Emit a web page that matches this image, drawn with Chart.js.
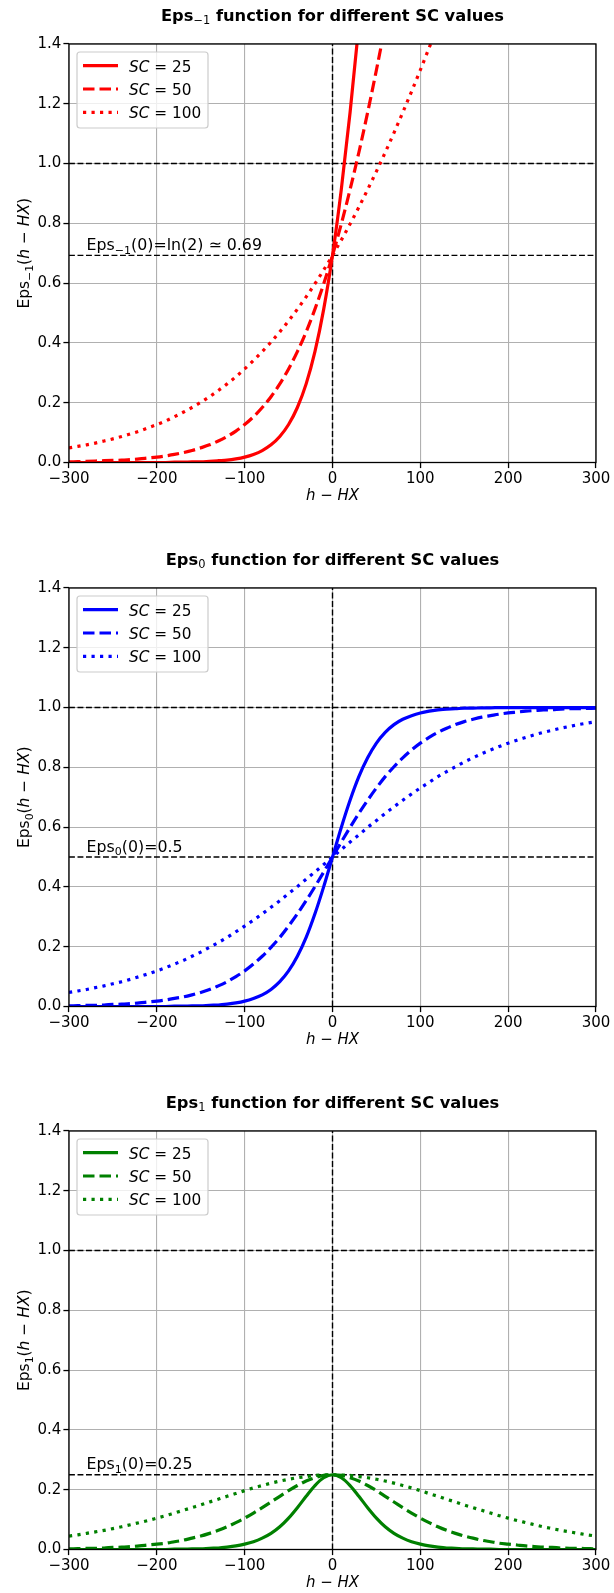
<!DOCTYPE html>
<html>
<head>
<meta charset="utf-8">
<script src="https://cdn.jsdelivr.net/npm/chart.js@4.4.1/dist/chart.umd.min.js"></script>
<style>
html, body { margin: 0; padding: 0; background: #fff; }
#wrap { position: relative; width: 614px; height: 1593px; }
canvas { position: absolute; left: 0; }
</style>
</head>
<body>
<div id="wrap">
<canvas id="c1" width="614" height="506" style="top:0px"></canvas>
<canvas id="c2" width="614" height="506" style="top:544px"></canvas>
<canvas id="c3" width="614" height="506" style="top:1087px"></canvas>
</div>
<script>
// h - HX sample points, every 10
const hx = [-300,-290,-280,-270,-260,-250,-240,-230,-220,-210,-200,-190,-180,-170,-160,-150,-140,-130,-120,-110,
            -100,-90,-80,-70,-60,-50,-40,-30,-20,-10,0,10,20,30,40,50,60,70,80,90,100,110,120,130,140,150,
            160,170,180,190,200,210,220,230,240,250,260,270,280,290,300];

// Eps_-1 values
const epsM1_sc25 = [0.000,0.000,0.000,0.000,0.000,0.000,0.000,0.000,0.000,0.000,0.000,0.000,0.001,0.001,0.002,0.002,
                    0.004,0.006,0.008,0.012,0.018,0.027,0.040,0.059,0.087,0.127,0.184,0.263,0.371,0.513,0.693,
                    0.913,1.171,1.463,1.784,2.127,2.487,2.859,3.240,3.627,4.018,4.412,4.808,5.206,5.604,6.002,
                    6.402,6.801,7.201,7.600,8.000,8.400,8.800,9.200,9.600,10.000,10.400,10.800,11.200,11.600,12.000];
const epsM1_sc50 = [0.002,0.003,0.004,0.005,0.006,0.007,0.008,0.010,0.012,0.015,0.018,0.022,0.027,0.033,0.040,0.049,
                    0.059,0.072,0.087,0.105,0.127,0.153,0.184,0.220,0.263,0.313,0.371,0.437,0.513,0.598,0.693,
                    0.798,0.913,1.037,1.171,1.313,1.463,1.620,1.784,1.953,2.127,2.305,2.487,2.672,2.859,3.049,
                    3.240,3.433,3.627,3.822,4.018,4.215,4.412,4.610,4.808,5.007,5.206,5.405,5.604,5.803,6.002];
const epsM1_sc100 = [0.049,0.054,0.059,0.065,0.072,0.079,0.087,0.096,0.105,0.116,0.127,0.139,0.153,0.168,0.184,0.201,
                     0.220,0.241,0.263,0.287,0.313,0.341,0.371,0.403,0.437,0.474,0.513,0.554,0.598,0.644,0.693,
                     0.744,0.798,0.854,0.913,0.974,1.037,1.103,1.171,1.241,1.313,1.387,1.463,1.541,1.620,1.701,
                     1.784,1.868,1.953,2.039,2.127,2.216,2.305,2.396,2.487,2.579,2.672,2.765,2.859,2.954,3.049];

// Eps_0 values (middle panel)
const eps0_sc25 = [0.000,0.000,0.000,0.000,0.000,0.000,0.000,0.000,0.000,0.000,0.000,0.000,0.001,0.001,0.002,0.002,
                   0.004,0.005,0.008,0.012,0.018,0.027,0.039,0.057,0.083,0.119,0.168,0.231,0.310,0.401,0.500,
                   0.599,0.690,0.769,0.832,0.881,0.917,0.943,0.961,0.973,0.982,0.988,0.992,0.995,0.996,0.998,
                   0.998,0.999,0.999,1.000,1.000,1.000,1.000,1.000,1.000,1.000,1.000,1.000,1.000,1.000,1.000];
const eps0_sc50 = [0.002,0.003,0.004,0.004,0.005,0.007,0.008,0.010,0.012,0.015,0.018,0.022,0.027,0.032,0.039,0.047,
                   0.057,0.069,0.083,0.100,0.119,0.142,0.168,0.198,0.231,0.269,0.310,0.354,0.401,0.450,0.500,
                   0.550,0.599,0.646,0.690,0.731,0.769,0.802,0.832,0.858,0.881,0.900,0.917,0.931,0.943,0.953,
                   0.961,0.968,0.973,0.978,0.982,0.985,0.988,0.990,0.992,0.993,0.995,0.996,0.996,0.997,0.998];
const eps0_sc100 = [0.047,0.052,0.057,0.063,0.069,0.076,0.083,0.091,0.100,0.109,0.119,0.130,0.142,0.154,0.168,0.182,
                    0.198,0.214,0.231,0.250,0.269,0.289,0.310,0.332,0.354,0.378,0.401,0.426,0.450,0.475,0.500,
                    0.525,0.550,0.574,0.599,0.622,0.646,0.668,0.690,0.711,0.731,0.750,0.769,0.786,0.802,0.818,
                    0.832,0.846,0.858,0.870,0.881,0.891,0.900,0.909,0.917,0.924,0.931,0.937,0.943,0.948,0.953];

// Eps_1 values (bottom panel)
const eps1_sc25 = [0.000,0.000,0.000,0.000,0.000,0.000,0.000,0.000,0.000,0.000,0.000,0.000,0.001,0.001,0.002,0.002,
                   0.004,0.005,0.008,0.012,0.018,0.026,0.038,0.054,0.076,0.105,0.140,0.178,0.214,0.240,0.250,
                   0.240,0.214,0.178,0.140,0.105,0.076,0.054,0.038,0.026,0.018,0.012,0.008,0.005,0.004,0.002,
                   0.002,0.001,0.001,0.000,0.000,0.000,0.000,0.000,0.000,0.000,0.000,0.000,0.000,0.000,0.000];
const eps1_sc50 = [0.002,0.003,0.004,0.004,0.005,0.007,0.008,0.010,0.012,0.015,0.018,0.021,0.026,0.031,0.038,0.045,
                   0.054,0.064,0.076,0.090,0.105,0.122,0.140,0.159,0.178,0.197,0.214,0.229,0.240,0.248,0.250,
                   0.248,0.240,0.229,0.214,0.197,0.178,0.159,0.140,0.122,0.105,0.090,0.076,0.064,0.054,0.045,
                   0.038,0.031,0.026,0.021,0.018,0.015,0.012,0.010,0.008,0.007,0.005,0.004,0.004,0.003,0.002];
const eps1_sc100 = [0.045,0.049,0.054,0.059,0.064,0.070,0.076,0.083,0.090,0.097,0.105,0.113,0.122,0.131,0.140,0.149,
                    0.159,0.168,0.178,0.187,0.197,0.206,0.214,0.222,0.229,0.235,0.240,0.244,0.248,0.249,0.250,
                    0.249,0.248,0.244,0.240,0.235,0.229,0.222,0.214,0.206,0.197,0.187,0.178,0.168,0.159,0.149,
                    0.140,0.131,0.122,0.113,0.105,0.097,0.090,0.083,0.076,0.070,0.064,0.059,0.054,0.049,0.045];

const scValues = [25, 50, 100];
const refLevels = [0.693, 0.5, 0.25];   // Eps(0) for each panel
const unityLevel = 1.0;
const xTicks = [-300, -200, -100, 0, 100, 200, 300];
const yTicks = [0.0, 0.2, 0.4, 0.6, 0.8, 1.0, 1.2, 1.4];

const FONT = '"DejaVu Sans", sans-serif';
const DASH = [11.5, 5];
const DOT = [3.2, 5.3];
const STYLES = [[], DASH, DOT];

const pts = ys => hx.map((x, i) => ({ x: x, y: ys[i] }));

function setFont(ctx, st, size) {
  const sub = st.includes('s');
  const sz = sub ? size * 0.7 : size;
  ctx.font = (st.includes('i') ? 'italic ' : '') + (st.includes('b') ? 'bold ' : '') + sz + 'px ' + FONT;
  return sub ? size * 0.24 : 0;
}
function richWidth(ctx, parts, size) {
  let w = 0;
  parts.forEach(p => { setFont(ctx, p[1], size); w += ctx.measureText(p[0]).width; });
  return w;
}
function drawRich(ctx, parts, size, x, y, align) {
  const w = richWidth(ctx, parts, size);
  let cx = align === 'center' ? x - w / 2 : (align === 'right' ? x - w : x);
  ctx.textAlign = 'left';
  ctx.textBaseline = 'alphabetic';
  ctx.fillStyle = '#000';
  parts.forEach(p => {
    const dy = setFont(ctx, p[1], size);
    ctx.fillText(p[0], cx, y + dy);
    cx += ctx.measureText(p[0]).width;
  });
}

function decor(cfg) {
  return {
    id: 'decor',
    afterDraw(chart) {
      const ctx = chart.ctx, a = chart.chartArea;
      const xs = chart.scales.x, ys = chart.scales.y;
      ctx.save();
      // frame
      ctx.setLineDash([]);
      ctx.strokeStyle = '#000';
      ctx.lineWidth = 1.3;
      ctx.strokeRect(a.left, a.top, a.right - a.left, a.bottom - a.top);

      // title
      drawRich(ctx, cfg.title, 16.3, (a.left + a.right) / 2, 20.5, 'center');
      // x label
      drawRich(ctx, [['h', 'i'], [' \u2212 ', ''], ['HX', 'i']], 15, (a.left + a.right) / 2, a.bottom + 37, 'center');
      // y label
      ctx.save();
      ctx.translate(29, (a.top + a.bottom) / 2);
      ctx.rotate(-Math.PI / 2);
      drawRich(ctx, cfg.ylabel, 15.5, 0, 0, 'center');
      ctx.restore();

      // annotation
      drawRich(ctx, cfg.note, 15.8, xs.getPixelForValue(-280), ys.getPixelForValue(cfg.ref) - 5.5, 'left');

      // legend
      const L = a.left + 8, T = a.top + 8;
      ctx.beginPath();
      ctx.roundRect(L, T, 131, 76, 3);
      ctx.fillStyle = 'rgba(255,255,255,0.8)';
      ctx.fill();
      ctx.strokeStyle = '#cccccc';
      ctx.lineWidth = 1.2;
      ctx.stroke();
      scValues.forEach((sc, i) => {
        const y = a.top + 21.7 + 23.3 * i;
        ctx.beginPath();
        ctx.setLineDash(STYLES[i]);
        ctx.lineCap = 'butt';
        ctx.strokeStyle = cfg.color;
        ctx.lineWidth = 3.2;
        ctx.moveTo(a.left + 14, y);
        ctx.lineTo(a.left + 49, y);
        ctx.stroke();
        ctx.setLineDash([]);
        drawRich(ctx, [['SC', 'i'], [' = ' + sc, '']], 15.3, a.left + 60, y + 6, 'left');
      });
      ctx.restore();
    }
  };
}

function makeChart(id, cfg) {
  const curves = cfg.series.map((ys, i) => ({
    label: 'SC = ' + scValues[i],
    data: pts(ys),
    borderColor: cfg.color,
    borderWidth: 3.2,
    borderDash: STYLES[i],
    borderCapStyle: 'butt',
    pointRadius: 0,
    fill: false,
    cubicInterpolationMode: 'monotone'
  }));
  const ref = data => ({
    label: '', data: data, borderColor: '#000', borderWidth: 1.4,
    borderDash: [5.9, 2.6], pointRadius: 0, tension: 0, fill: false
  });
  const datasets = curves.concat([
    ref([{ x: xTicks[0], y: unityLevel }, { x: xTicks[xTicks.length - 1], y: unityLevel }]),
    ref([{ x: xTicks[0], y: cfg.ref }, { x: xTicks[xTicks.length - 1], y: cfg.ref }]),
    ref([{ x: 0, y: yTicks[0] }, { x: 0, y: yTicks[yTicks.length - 1] }])
  ]);
  const tickFont = { family: FONT, size: 15 };
  const grid = { color: '#b0b0b0', lineWidth: 1.1, tickLength: 5.6, tickColor: '#000', tickWidth: 1.3 };
  return new Chart(document.getElementById(id), {
    type: 'line',
    data: { datasets: datasets },
    options: {
      responsive: false,
      animation: false,
      devicePixelRatio: 1,
      layout: { padding: { left: 0, right: 18, top: 44, bottom: 0 } },
      plugins: { legend: { display: false }, tooltip: { enabled: false }, title: { display: false } },
      scales: {
        x: {
          type: 'linear', min: xTicks[0], max: xTicks[xTicks.length - 1],
          afterFit: s => { s.height = 43.5; },
          afterBuildTicks: s => { s.ticks = xTicks.map(v => ({ value: v })); },
          ticks: {
            font: tickFont, color: '#000', padding: 2, maxRotation: 0,
            callback: v => v < 0 ? '\u2212' + (-v) : String(v)
          },
          grid: grid, border: { display: false }
        },
        y: {
          min: yTicks[0], max: yTicks[yTicks.length - 1],
          afterFit: s => { s.width = 69; },
          afterBuildTicks: s => { s.ticks = yTicks.map(v => ({ value: v })); },
          ticks: { font: tickFont, color: '#000', padding: 2, callback: v => Number(v).toFixed(1) },
          grid: grid, border: { display: false }
        }
      }
    },
    plugins: [decor(cfg)]
  });
}

makeChart('c1', {
  color: '#ff0000',
  series: [epsM1_sc25, epsM1_sc50, epsM1_sc100],
  ref: refLevels[0],
  title: [['Eps', 'b'], ['\u22121', 's'], [' function for different SC values', 'b']],
  ylabel: [['Eps', ''], ['\u22121', 's'], ['(', ''], ['h', 'i'], [' \u2212 ', ''], ['HX', 'i'], [')', '']],
  note: [['Eps', ''], ['\u22121', 's'], ['(0)=ln(2)', ''], [' \u2243 ', ''], ['0.69', '']]
});
makeChart('c2', {
  color: '#0000ff',
  series: [eps0_sc25, eps0_sc50, eps0_sc100],
  ref: refLevels[1],
  title: [['Eps', 'b'], ['0', 's'], [' function for different SC values', 'b']],
  ylabel: [['Eps', ''], ['0', 's'], ['(', ''], ['h', 'i'], [' \u2212 ', ''], ['HX', 'i'], [')', '']],
  note: [['Eps', ''], ['0', 's'], ['(0)=0.5', '']]
});
makeChart('c3', {
  color: '#008000',
  series: [eps1_sc25, eps1_sc50, eps1_sc100],
  ref: refLevels[2],
  title: [['Eps', 'b'], ['1', 's'], [' function for different SC values', 'b']],
  ylabel: [['Eps', ''], ['1', 's'], ['(', ''], ['h', 'i'], [' \u2212 ', ''], ['HX', 'i'], [')', '']],
  note: [['Eps', ''], ['1', 's'], ['(0)=0.25', '']]
});
</script>
</body>
</html>
